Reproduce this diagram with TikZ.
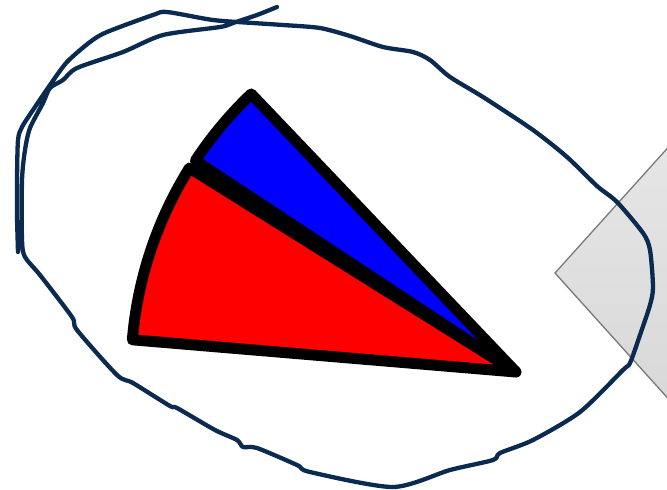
\documentclass[tikz,border=0pt]{standalone}
\usetikzlibrary{shadows}
\definecolor{navy}{HTML}{0A2A50}
\definecolor{diaedge}{HTML}{7A7A7A}
\tikzset{
  sectorline/.style={draw=black, line width=11pt, line join=round, line cap=round},
  scribble/.style={draw=navy, line width=4.3pt, line join=round, line cap=round},
  diabox/.style={draw=diaedge, line width=1.3pt, top color=black!8, bottom color=black!17,
     drop shadow={shadow xshift=2pt, shadow yshift=-3pt, opacity=0.3, fill=black!60}}
}
\begin{document}
\begin{tikzpicture}[x=1pt,y=-1pt]
\useasboundingbox (0,0) rectangle (667,490);
\clip (0,0) rectangle (667,490);
\fill[white] (0,0) rectangle (667,490);
% grey diamond at right edge
\path[diabox] (555,273) -- (755,51) -- (955,273) -- (755,495) -- cycle;
% sectors
\coordinate (apex) at (516,372);
\path[sectorline, fill={rgb,255:red,255;green,0;blue,0}] (apex) -- ++(184.8:385) arc[start angle=184.8, end angle=212, radius=385] -- cycle;
\path[sectorline, fill={rgb,255:red,0;green,0;blue,255}] (apex) -- ++(213.4:384) arc[start angle=213.4, end angle=226.4, radius=384] -- cycle;
% hand-drawn loop
\draw[scribble] plot[smooth, tension=0.45] coordinates {
 (18,252) (17,215) (17,180) (18,140) (22,127) (33,110) (50,85) (67,62) (90,42) (107,32)
 (153,15) (167,12) (213,20) (253,23) (283,25) (320,28) (350,36) (383,47) (413,52) (430,60)
 (450,77) (483,97) (533,130) (567,157) (597,186) (617,202) (643,233) (650,250) (653,287)
 (650,305) (640,335) (630,363) (623,370) (580,412) (533,440) (500,453) (493,460) (450,470)
 (393,487) (310,472) (297,465) (257,448) (243,447) (237,440) (215,430) (177,408) (170,406)
 (133,383) (117,375) (77,330) (72,317) (40,275) (25,257) (22,240) (22,180) (25,150) (30,128)
 (43,103) (50,88) (63,80) (77,68) (123,52) (163,35) (220,27) (233,23) (257,15) (277,7)
};
\end{tikzpicture}
\end{document}
